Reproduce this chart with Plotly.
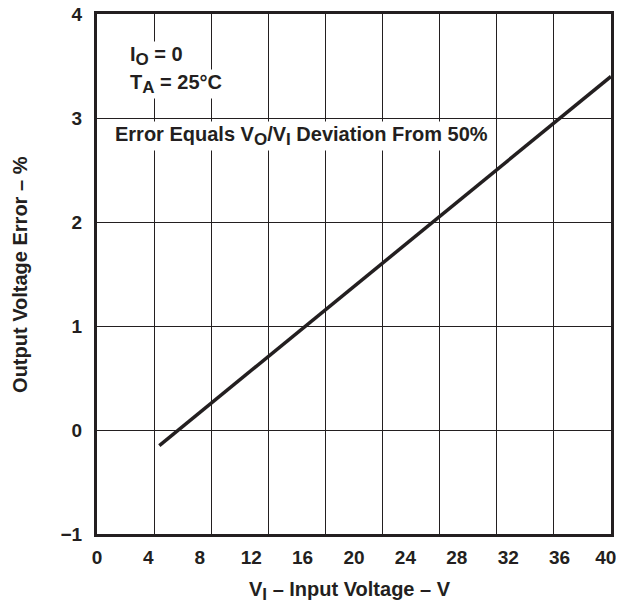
import plotly.graph_objects as go

# Data
vi = [4.85, 40.0]
err = [-0.15, 3.40]
x_ticks = [0, 4, 8, 12, 16, 20, 24, 28, 32, 36, 40]
x_ticktext = ["0", "4", "8", "12", "16", "20", "24", "28", "32", "36", "40\u00a0\u00a0"]
y_ticks = [-1, 0, 1, 2, 3, 4]
y_ticktext = ["−1", "0", "1", "2", "3", "4"]
n_vgrid = 9  # the original chart's vertical grid has 9 divisions

FONT = "Arial, Liberation Sans, sans-serif"
INK = "#231f20"
FS_TICK = 19
FS = 20


def sub(s):
    return "<sub><span style='font-size:17px'>%s</span></sub>" % s


fig = go.Figure()
fig.add_trace(go.Scatter(x=vi, y=err, mode="lines",
                         line=dict(color=INK, width=3.5),
                         showlegend=False, hoverinfo="skip"))
# invisible trace to carry the grid axis
fig.add_trace(go.Scatter(x=[0, 40], y=[-1, 4], xaxis="x2", mode="lines",
                         line=dict(width=0), showlegend=False, hoverinfo="skip"))

# page body has an 8px margin, so the figure is 8px smaller than the window
fig.update_layout(
    width=616, height=595,
    margin=dict(l=89, r=13, t=6, b=69, autoexpand=False),
    paper_bgcolor="white", plot_bgcolor="white",
    font=dict(family=FONT, size=FS, color=INK),
    xaxis=dict(range=[0, 40], tickvals=x_ticks, ticktext=x_ticktext,
               showgrid=False, zeroline=False,
               showline=True, linecolor=INK, linewidth=3, mirror=True,
               ticks="", tickfont=dict(size=FS_TICK, family=FONT, weight="bold"),
               ticklabelstandoff=4, automargin=False, ticklabeloverflow="allow"),
    xaxis2=dict(range=[0, 40], overlaying="x", tick0=0, dtick=40 / n_vgrid,
                showgrid=True, gridcolor=INK, gridwidth=1, zeroline=False,
                showticklabels=False, ticks="", showline=False, automargin=False),
    yaxis=dict(range=[-1, 4], tickvals=y_ticks, ticktext=y_ticktext,
               showgrid=True, gridcolor=INK, gridwidth=1, zeroline=False,
               showline=True, linecolor=INK, linewidth=3, mirror=True,
               ticks="", tickfont=dict(size=FS_TICK, family=FONT, weight="bold"),
               ticklabelstandoff=8, automargin=False, ticklabeloverflow="allow"),
)

ann_font = dict(family=FONT, size=FS, color=INK)
# axis titles
fig.add_annotation(x=-0.15, y=0.5, xref="paper", yref="paper", xanchor="center",
                   yanchor="middle", textangle=-90, showarrow=False, font=ann_font,
                   text="<b>Output Voltage Error – %</b>")
fig.add_annotation(x=0.492, y=-0.11, xref="paper", yref="paper", xanchor="center",
                   yanchor="middle", showarrow=False, font=ann_font,
                   text="<b>V" + sub("I") + " – Input Voltage – V</b>")
# in-plot notes
fig.add_annotation(x=2.41, y=3.6, xref="x", yref="y", xanchor="left", yanchor="middle",
                   text="<b>I" + sub("O") + " = 0</b>", showarrow=False, font=ann_font,
                   bgcolor="white")
fig.add_annotation(x=2.41, y=3.33, xref="x", yref="y", xanchor="left", yanchor="middle",
                   text="<b>T" + sub("A") + " = 25°C</b>", showarrow=False, font=ann_font,
                   bgcolor="white")
fig.add_annotation(x=1.27, y=2.83, xref="x", yref="y", xanchor="left", yanchor="middle",
                   text="<b>Error Equals V" + sub("O") + "/V" + sub("I")
                        + " Deviation From 50%</b>",
                   showarrow=False, font=ann_font, bgcolor="white")

fig.write_html("out.html")
